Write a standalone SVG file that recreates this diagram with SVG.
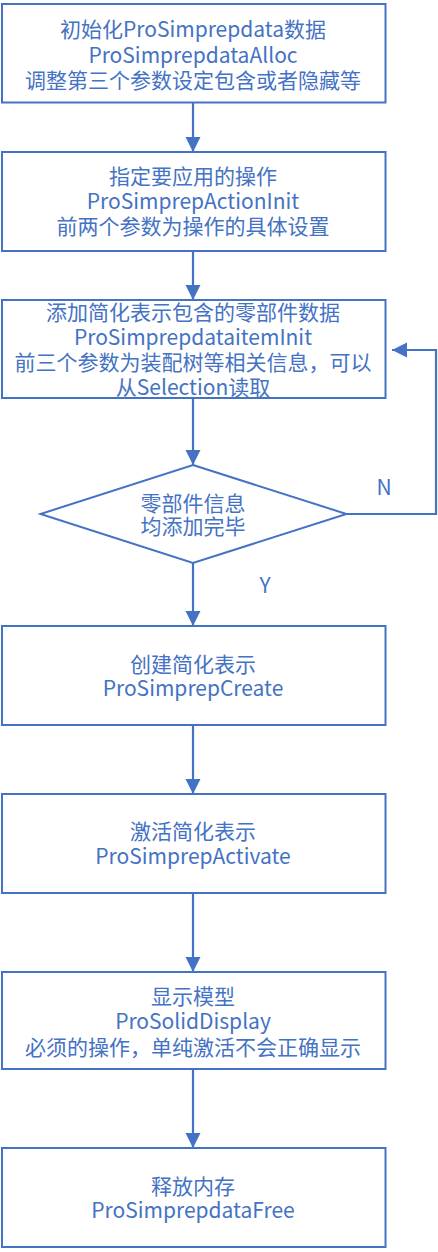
<svg xmlns="http://www.w3.org/2000/svg" width="438" height="1252" viewBox="0 0 438 1252">
<defs>
<marker id="ah" markerUnits="userSpaceOnUse" markerWidth="16" markerHeight="16" viewBox="0 0 16 16" refX="15" refY="7.5" orient="auto">
<path d="M0,0 L15,7.5 L0,15 Z" fill="#4472C4"/>
</marker>
<style>
.box{fill:#fff;stroke:#4472C4;stroke-width:2}
.t{font-family:"Microsoft YaHei","Noto Sans CJK SC","Noto Sans",sans-serif;font-size:21px;fill:#4472C4;text-anchor:middle;dominant-baseline:central}
.c{fill:none;stroke:#4472C4;stroke-width:2.2}
</style>
</defs>
<rect width="438" height="1252" fill="#fff"/>
<g id="connectors">
<line class="c" x1="193" y1="102" x2="193" y2="152" marker-end="url(#ah)"/>
<line class="c" x1="193" y1="251" x2="193" y2="300" marker-end="url(#ah)"/>
<line class="c" x1="193" y1="398" x2="193" y2="465" marker-end="url(#ah)"/>
<line class="c" x1="193" y1="563" x2="193" y2="626" marker-end="url(#ah)"/>
<line class="c" x1="193" y1="725" x2="193" y2="794" marker-end="url(#ah)"/>
<line class="c" x1="193" y1="893" x2="193" y2="972" marker-end="url(#ah)"/>
<line class="c" x1="193" y1="1069" x2="193" y2="1148" marker-end="url(#ah)"/>
<polyline class="c" points="346,514 436,514 436,350 392,350" marker-end="url(#ah)"/>
<text class="t" x="384" y="486">N</text>
<text class="t" x="265" y="584">Y</text>
</g>
<g id="n1">
<rect class="box" x="2" y="4" width="383.5" height="98.5"/>
<text class="t"><tspan x="193" y="28">初始化ProSimprepdata数据</tspan><tspan x="193" y="53.5">ProSimprepdataAlloc</tspan><tspan x="193" y="79">调整第三个参数设定包含或者隐藏等</tspan></text>
</g>
<g id="n2">
<rect class="box" x="2" y="152" width="383.5" height="99"/>
<text class="t"><tspan x="193" y="175">指定要应用的操作</tspan><tspan x="193" y="200">ProSimprepActionInit</tspan><tspan x="193" y="225">前两个参数为操作的具体设置</tspan></text>
</g>
<g id="n3">
<rect class="box" x="2" y="300" width="383.5" height="98"/>
<text class="t"><tspan x="193" y="311">添加简化表示包含的零部件数据</tspan><tspan x="193" y="335.5">ProSimprepdataitemInit</tspan><tspan x="193" y="361">前三个参数为装配树等相关信息，可以</tspan><tspan x="193" y="386">从Selection读取</tspan></text>
</g>
<g id="n4">
<polygon class="box" points="193,465 346.5,514 193,563 40.5,514"/>
<text class="t"><tspan x="193" y="502">零部件信息</tspan><tspan x="193" y="525">均添加完毕</tspan></text>
</g>
<g id="n5">
<rect class="box" x="2" y="626" width="383.5" height="99"/>
<text class="t"><tspan x="193" y="663">创建简化表示</tspan><tspan x="193" y="687">ProSimprepCreate</tspan></text>
</g>
<g id="n6">
<rect class="box" x="2" y="794" width="383.5" height="99"/>
<text class="t"><tspan x="193" y="830">激活简化表示</tspan><tspan x="193" y="855">ProSimprepActivate</tspan></text>
</g>
<g id="n7">
<rect class="box" x="2" y="972" width="383.5" height="97"/>
<text class="t"><tspan x="193" y="995">显示模型</tspan><tspan x="193" y="1020">ProSolidDisplay</tspan><tspan x="193" y="1046">必须的操作，单纯激活不会正确显示</tspan></text>
</g>
<g id="n8">
<rect class="box" x="2" y="1148" width="383.5" height="99"/>
<text class="t"><tspan x="193" y="1185">释放内存</tspan><tspan x="193" y="1209">ProSimprepdataFree</tspan></text>
</g>
</svg>
